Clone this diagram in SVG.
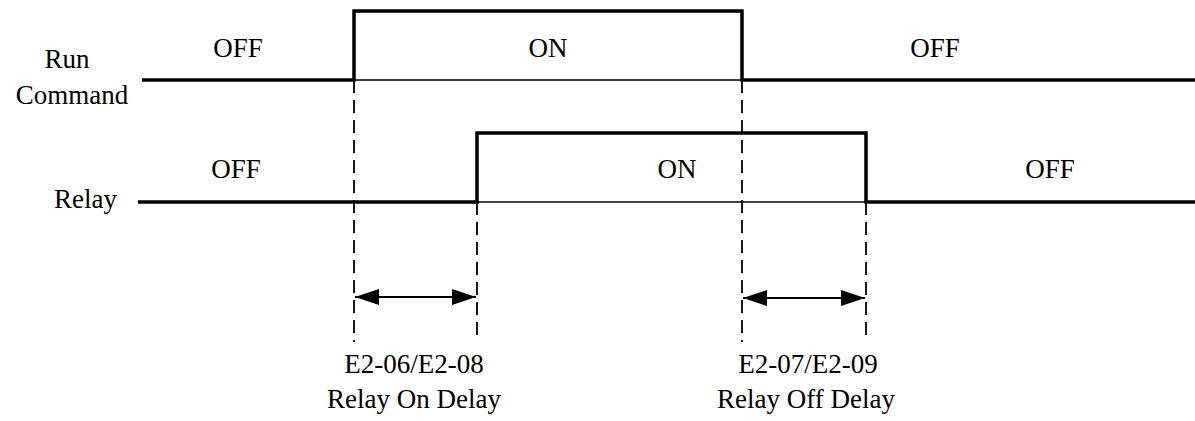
<svg xmlns="http://www.w3.org/2000/svg" width="1195" height="421" viewBox="0 0 1195 421">
<defs>
<style>
.t{font-size:27px;fill:#000;text-anchor:middle}
.thick{stroke:#000;stroke-width:3.5;fill:none}
.thin{stroke:#000;stroke-width:1.5;fill:none}
.dash{stroke:#000;stroke-width:1.8;fill:none;stroke-dasharray:13 7}
.arr{stroke:#000;stroke-width:2;fill:none}
</style>
<marker id="ah" viewBox="0 0 24 16" refX="24" refY="8" markerWidth="24" markerHeight="16" markerUnits="userSpaceOnUse" orient="auto-start-reverse">
<path d="M0,0 L24,8 L0,16 Z" fill="#000"/>
</marker>
</defs>
<rect width="1195" height="421" fill="#fff"/>
<g font-family="Liberation Serif, DejaVu Serif, serif">
<g id="run-command">
<text class="t" x="67" y="68">Run</text>
<text class="t" x="72" y="104">Command</text>
<path class="thick" d="M142,80 H354 V11 H742 V80 H1195"/>
<path class="thin" d="M354,80 H742"/>
<text class="t" x="238" y="57">OFF</text>
<text class="t" x="548" y="57">ON</text>
<text class="t" x="935" y="57">OFF</text>
</g>
<g id="relay">
<text class="t" x="117" y="208" style="text-anchor:end">Relay</text>
<path class="thick" d="M138,202 H477 V133 H866 V202 H1195"/>
<path class="thin" d="M477,202 H866"/>
<text class="t" x="236" y="178">OFF</text>
<text class="t" x="677" y="178">ON</text>
<text class="t" x="1050" y="178">OFF</text>
</g>
<g id="connectors">
<path class="dash" d="M354,80 V342"/>
<path class="dash" d="M477,202 V342"/>
<path class="dash" d="M742,80 V342"/>
<path class="dash" d="M866,202 V342"/>
<path class="arr" d="M355,297 H476" marker-start="url(#ah)" marker-end="url(#ah)"/>
<path class="arr" d="M743,298 H865" marker-start="url(#ah)" marker-end="url(#ah)"/>
</g>
<g id="on-delay-label">
<text class="t" x="414" y="373">E2-06/E2-08</text>
<text class="t" x="414" y="408">Relay On Delay</text>
</g>
<g id="off-delay-label">
<text class="t" x="808" y="373">E2-07/E2-09</text>
<text class="t" x="806" y="408">Relay Off Delay</text>
</g>
</g>
</svg>
